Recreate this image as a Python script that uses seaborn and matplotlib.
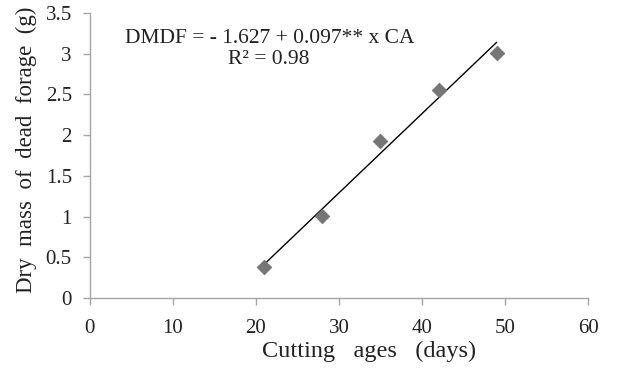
import numpy as np
import pandas as pd
import seaborn as sns
import matplotlib.pyplot as plt

sns.set_theme(style="white")
plt.rcParams["font.family"] = ["Liberation Serif", "DejaVu Serif"]

# data
cutting_age = [21, 28, 35, 42, 49]
dry_mass = [0.38, 1.01, 1.93, 2.56, 3.01]

x_ticks = [0, 10, 20, 30, 40, 50, 60]
y_ticks = [0, 0.5, 1, 1.5, 2, 2.5, 3, 3.5]
y_tick_labels = ["0", "0.5", "1", "1.5", "2", "2.5", "3", "3.5"]

df = pd.DataFrame({"age": cutting_age, "mass": dry_mass})

fig = plt.figure(figsize=(6.42, 3.69), dpi=100)
ax = fig.add_axes([0.140, 0.192, 0.776, 0.773])

sns.regplot(data=df, x="age", y="mass", ci=None, scatter=False, ax=ax,
            line_kws={"color": "black", "lw": 1.0})
sns.scatterplot(data=df, x="age", y="mass", marker="D", s=55, color="#767676",
                edgecolor="#767676", ax=ax, zorder=3)

ax.set_xlim(0, 60)
ax.set_ylim(0, 3.5)
ax.set_xticks(x_ticks)
ax.set_yticks(y_ticks)
ax.set_yticklabels(y_tick_labels)

for side in ["top", "right"]:
    ax.spines[side].set_visible(False)
for side in ["left", "bottom"]:
    ax.spines[side].set_color("#a6a6a6")
    ax.spines[side].set_linewidth(1.0)

ax.tick_params(axis="both", direction="out", length=5, width=1, color="#a6a6a6",
               bottom=True, left=True, labelsize=15, labelcolor="#222222")
ax.tick_params(axis="x", pad=10)
ax.tick_params(axis="y", pad=8)

ax.set_xlabel("Cutting   ages   (days)", fontsize=17.5, color="#222222", labelpad=2, x=0.56)
ax.set_ylabel("Dry  mass  of  dead  forage  (g)", fontsize=16.5, color="#222222", labelpad=6, y=0.52)

ax.text(0.361, 0.912, "DMDF = - 1.627 + 0.097** x CA", transform=ax.transAxes,
        ha="center", va="center", fontsize=15.5, color="#222222")
ax.text(0.36, 0.835, "R² = 0.98", transform=ax.transAxes,
        ha="center", va="center", fontsize=15.5, color="#222222")

plt.savefig("out.png", dpi=100)
plt.close()
